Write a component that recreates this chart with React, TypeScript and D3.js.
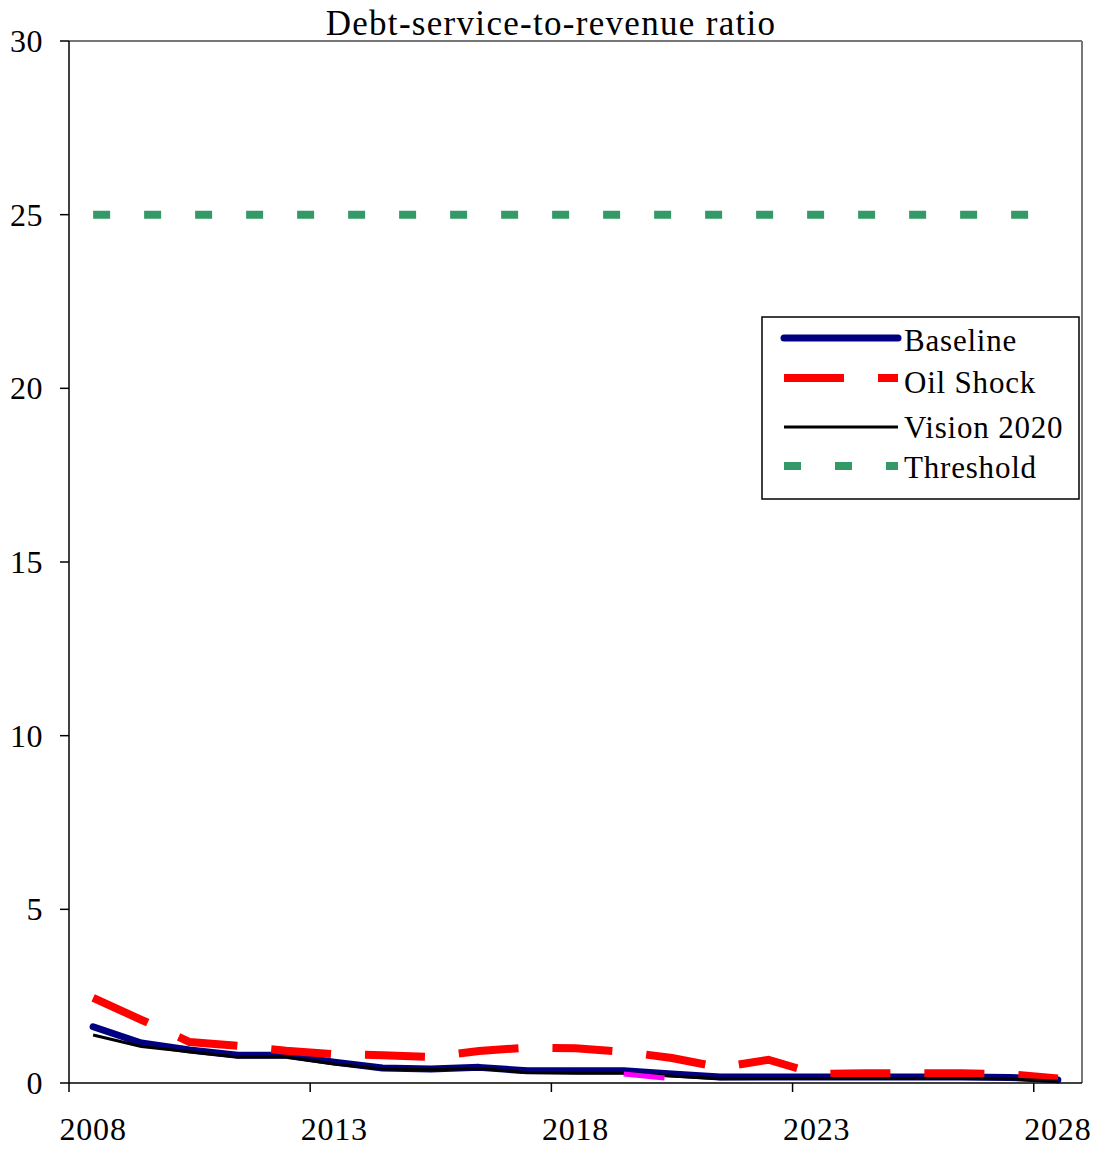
import React from "react";
import * as d3 from "d3";

// Fiscal years on the category axis
const years = [
  "2008", "2009", "2010", "2011", "2012", "2013", "2014", "2015", "2016", "2017",
  "2018", "2019", "2020", "2021", "2022", "2023", "2024", "2025", "2026", "2027", "2028",
];

// Debt service as a percent of revenue, by scenario
const baseline = [1.62, 1.15, 0.95, 0.8, 0.8, 0.6, 0.43, 0.4, 0.45, 0.35, 0.35, 0.35, 0.26, 0.17, 0.17, 0.17, 0.17, 0.17, 0.17, 0.16, 0.09];
const oilShock = [2.45, 1.82, 1.18, 1.07, 0.93, 0.83, 0.8, 0.75, 0.92, 1.02, 1.0, 0.9, 0.72, 0.45, 0.67, 0.26, 0.28, 0.28, 0.28, 0.25, 0.13];
const vision2020 = [1.38, 1.05, 0.9, 0.75, 0.75, 0.55, 0.4, 0.38, 0.42, 0.3, 0.28, 0.28, 0.2, 0.12, 0.13, 0.13, 0.13, 0.13, 0.13, 0.12, 0.05];
const threshold = years.map(() => 25);
const extraSeries: (number | null)[] = [null, null, null, null, null, null, null, null, null, null, null, 0.26, 0.12, null, null, null, null, null, null, null, null];

const yTicks = [0, 5, 10, 15, 20, 25, 30];
const xLabelYears = ["2008", "2013", "2018", "2023", "2028"];

const W = 1100;
const H = 1151;
const M = { left: 69, right: 1082, top: 41, bottom: 1083 };
const FONT = "'Liberation Serif', 'Times New Roman', serif";

export default function App() {
  const x = d3.scaleBand<string>().domain(years).range([M.left, M.right]).paddingInner(0).paddingOuter(0);
  const y = d3.scaleLinear().domain([0, 30]).range([M.bottom, M.top]);
  const cx = (yr: string) => (x(yr) as number) + x.bandwidth() / 2;

  const line = d3
    .line<number | null>()
    .defined((d) => d !== null)
    .x((_, i) => cx(years[i]))
    .y((d) => y(d as number));

  const legendItems = [
    { label: "Baseline", color: "#000080", width: 7, dash: undefined as string | undefined, cap: "round", y: 338, ty: 351 },
    { label: "Oil Shock", color: "#ff0000", width: 8, dash: "60,34", cap: "butt", y: 378, ty: 393 },
    { label: "Vision 2020", color: "#000000", width: 3, dash: undefined, cap: "butt", y: 427, ty: 438 },
    { label: "Threshold", color: "#339966", width: 8, dash: "17,34", cap: "butt", y: 466, ty: 478 },
  ];

  return (
    <svg
      width={W}
      height={H}
      style={{ position: "absolute", left: 0, top: 0, background: "#fff" }}
      fontFamily={FONT}
    >
      <rect x={0} y={0} width={W} height={H} fill="#fff" />

      {/* title */}
      <text x={551} y={35} textAnchor="middle" fontSize={35} letterSpacing={1.3} fill="#000">
        Debt-service-to-revenue ratio
      </text>

      {/* frame */}
      <line x1={M.left} x2={M.right} y1={M.top} y2={M.top} stroke="#777" strokeWidth={2} />
      <line x1={M.right} x2={M.right} y1={M.top} y2={M.bottom} stroke="#777" strokeWidth={2} />

      {/* series */}
      <path d={line(threshold) || ""} fill="none" stroke="#339966" strokeWidth={8} strokeDasharray="17,34" />
      <path d={line(baseline) || ""} fill="none" stroke="#000080" strokeWidth={7} strokeLinejoin="round" strokeLinecap="round" />
      <path d={line(oilShock) || ""} fill="none" stroke="#ff0000" strokeWidth={8} strokeDasharray="60,34" />
      <path d={line(vision2020) || ""} fill="none" stroke="#000" strokeWidth={3} strokeLinejoin="round" />
      <path d={line(extraSeries) || ""} fill="none" stroke="#ff00ff" strokeWidth={5} strokeDasharray="41,200" />

      {/* y axis */}
      <line x1={M.left} x2={M.left} y1={M.top} y2={M.bottom} stroke="#000" strokeWidth={1.5} />
      {yTicks.map((t) => (
        <g key={t}>
          <line x1={M.left - 9} x2={M.left} y1={y(t)} y2={y(t)} stroke="#000" strokeWidth={1.5} />
          <text x={43} y={y(t) + 11} textAnchor="end" fontSize={32} letterSpacing={0.5} fill="#000">
            {t}
          </text>
        </g>
      ))}

      {/* x axis */}
      <line x1={M.left} x2={M.right} y1={M.bottom} y2={M.bottom} stroke="#000" strokeWidth={1.5} />
      {xLabelYears.map((yr) => (
        <g key={yr}>
          <line x1={x(yr) as number} x2={x(yr) as number} y1={M.bottom} y2={M.bottom + 9} stroke="#000" strokeWidth={1.5} />
          <text x={cx(yr)} y={1140} textAnchor="middle" fontSize={32} letterSpacing={0.8} fill="#000">
            {yr}
          </text>
        </g>
      ))}

      {/* legend */}
      <rect x={762} y={317} width={317} height={182} fill="#fff" stroke="#000" strokeWidth={1.5} />
      {legendItems.map((it) => (
        <g key={it.label}>
          <line
            x1={784}
            x2={898}
            y1={it.y}
            y2={it.y}
            stroke={it.color}
            strokeWidth={it.width}
            strokeDasharray={it.dash}
            strokeLinecap={it.cap as any}
          />
          <text x={904} y={it.ty} fontSize={31} letterSpacing={0.8} fill="#000">
            {it.label}
          </text>
        </g>
      ))}
    </svg>
  );
}
